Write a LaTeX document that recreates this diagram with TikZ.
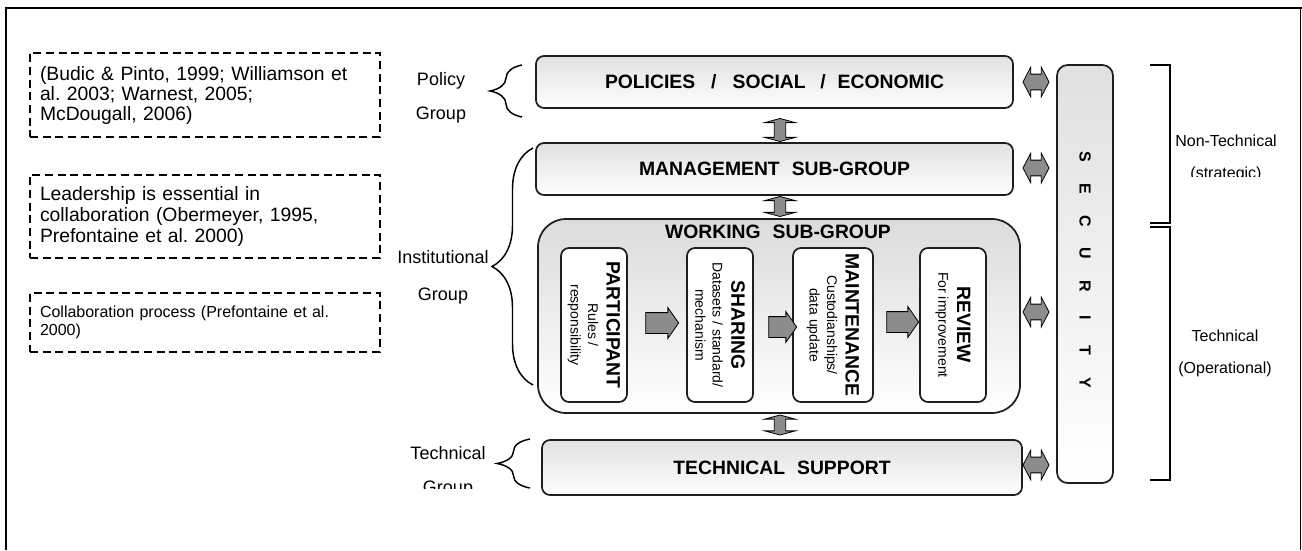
\documentclass[tikz,border=0pt]{standalone}
\usepackage{fontspec}
\setmainfont{Liberation Sans}
\usetikzlibrary{shapes.arrows,decorations.pathreplacing}
\definecolor{arrgray}{RGB}{140,140,140}
\definecolor{edge}{RGB}{30,30,30}
\newcommand{\stagetitle}[1]{{\fontsize{14.5}{15}\selectfont\bfseries #1}}
\newcommand{\stagenote}{\fontsize{10.5}{12}\selectfont}

\begin{document}
\frenchspacing
\begin{tikzpicture}[x=0.75pt,y=-0.75pt,
		refbox/.style={draw=black,line width=1.2pt,dash pattern=on 6pt off 3.5pt,
			minimum width=262.5pt,text width=247.5pt,align=left,inner xsep=7.5pt},
		grp/.style={draw=edge,line width=1.3pt,rounded corners=6pt,inner sep=0pt,
			top color=black!12,bottom color=white,
			font=\fontsize{14.5}{17}\selectfont\bfseries},
		stage/.style={draw=edge,line width=1.3pt,rounded corners=6pt,fill=white,
			rotate=-90,align=center,inner sep=0pt,minimum width=115.5pt},
		lbl/.style={font=\fontsize{13.5}{16}\selectfont,anchor=base},
		side/.style={font=\fontsize{12}{14}\selectfont,anchor=base},
		fwd/.style={single arrow,draw=black,line width=0.6pt,fill=arrgray,inner xsep=0pt,
			inner ysep=7.5pt,minimum width=22.5pt,single arrow head extend=3.75pt,
			single arrow tip angle=110},
		link/.style={double arrow,draw=black,line width=0.6pt,fill=arrgray,inner xsep=0pt},
		vlink/.style={link,rotate=90,inner ysep=4pt,minimum width=22.5pt,
			double arrow head extend=7.25pt,double arrow tip angle=150},
		hlink/.style={link,inner ysep=5.6pt,minimum height=19.5pt,minimum width=21.75pt,
			double arrow head extend=5.25pt,double arrow tip angle=125},
		brk/.style={line width=1.2pt},
		brc/.style={line width=1.1pt,decorate,decoration={brace,amplitude=#1}}]
	\useasboundingbox (0,0) rectangle (1302,550);
	
	% frame
	\draw[line width=2.2pt] (6,550) -- (6,8) -- (1302,8);
	\draw[line width=0.8pt] (1300.5,8) -- (1300.5,550);
	
	% ============ references ============
	\node[refbox,minimum height=63pt,font=\fontsize{14.5}{15}\selectfont] (ref1) at (205,95)
		{(Budic \& Pinto, 1999; Williamson et\\ al. 2003; Warnest, 2005;\\ McDougall, 2006)};
	\node[refbox,minimum height=62.25pt,font=\fontsize{14.5}{16}\selectfont] (ref2) at (205,216.5)
		{Leadership is essential in\\ collaboration (Obermeyer, 1995,\\ Prefontaine et al. 2000)};
	\node[refbox,minimum height=44.25pt,font=\fontsize{12}{13.5}\selectfont] (ref3) at (205,322.5)
		{Collaboration process (Prefontaine et al.\\ 2000)};
	
	% ============ group labels + braces ============
	\node[lbl] (polL1) at (441,85) {Policy};
	\node[lbl] (polL2) at (441,119.5) {Group};
	\draw[brc=24pt] (522,117) -- (522,65);
	\node[lbl] (insL1) at (443,263) {Institutional};
	\node[lbl] (insL2) at (443,300) {Group};
	\draw[brc=30.75pt] (533,385) -- (533,148);
	\node[lbl] (tecL1) at (448,459) {Technical};
	\begin{scope}
		\clip (400,470) rectangle (500,488);
		\node[lbl] (tecL2) at (448,493) {Group};
	\end{scope}
	\draw[brc=24.75pt] (530,488) -- (530,439);
	
	% ============ main boxes ============
	\node[grp,minimum width=357.75pt,minimum height=39pt] (pol) at (774.5,82)
		{POLICIES\hspace{12pt}/\hspace{12pt}SOCIAL\hspace{11pt}/\hspace{9pt}ECONOMIC};
	\node[grp,minimum width=357.75pt,minimum height=39pt] (mgt) at (774.5,169)
		{MANAGEMENT\hspace{9pt}SUB-GROUP};
	\node[grp,rounded corners=21pt,minimum width=361.5pt,minimum height=145.5pt,
		top color=black!14] (work) at (779,316) {};
	\node[anchor=base,font=\fontsize{14.5}{17}\selectfont\bfseries] (worktitle) at (778,238)
		{WORKING\hspace{9pt}SUB-GROUP};
	\node[grp,minimum width=360pt,minimum height=41.25pt] (tech) at (782,467.5)
		{TECHNICAL\hspace{9pt}SUPPORT};
	
	% working steps
	\node[stage,minimum height=49.5pt] (part) at (594,325)
		{\stagetitle{PARTICIPANT}\\[2pt] \stagenote Rules /\\[1pt] \stagenote responsibility};
	\node[stage,minimum height=49.5pt] (shar) at (720,325)
		{\stagetitle{SHARING}\\[2pt] \stagenote Datasets / standard/\\[1pt] \stagenote mechanism};
	\node[stage,minimum height=60pt] (maint) at (833,325)
		{\stagetitle{MAINTENANCE}\\[2pt] \stagenote Custodianships/\\[1pt] \stagenote data update};
	\node[stage,minimum height=49.5pt] (rev) at (953,325)
		{\stagetitle{REVIEW}\\[2pt] \stagenote For improvement};
	\node[fwd,minimum height=24.75pt] (f1) at (658.5,323) {};
	\node[fwd,minimum height=21pt] (f2) at (779,327) {};
	\node[fwd,minimum height=24pt] (f3) at (899,322) {};
	
	% vertical links
	\node[vlink,minimum height=17.25pt] (v1) at (780,130) {};
	\node[vlink,minimum height=15pt] (v2) at (780,206.5) {};
	\node[vlink,minimum height=15pt] (v3) at (780,425) {};
	
	% ============ security ============
	\node[grp,rounded corners=8pt,minimum width=42pt,minimum height=313.5pt] (sec) at (1085,274) {};
	\foreach \ch [count=\i from 0] in {S,E,C,U,R,I,T,Y}
		\node[rotate=-90,font=\fontsize{12}{14}\selectfont\bfseries] (sec\i) at (1085,{157+32.2*\i}) {\ch};
	\node[hlink] (h1) at (1036,82) {};
	\node[hlink] (h2) at (1036,168) {};
	\node[hlink] (h3) at (1036,312) {};
	\node[hlink] (h4) at (1036,465) {};
	
	% ============ right brackets ============
	\draw[brk] (1150,65) -- (1170,65) -- (1170,223) -- (1150,223);
	\draw[brk] (1150,227) -- (1170,227) -- (1170,480) -- (1150,480);
	\node[side] (ntL1) at (1226,146) {Non-Technical};
	\begin{scope}
		\clip (1180,150) rectangle (1290,176.5);
		\node[side] (ntL2) at (1226,178) {(strategic)};
	\end{scope}
	\node[side] (tL1) at (1225,341) {Technical};
	\node[side] (tL2) at (1225,373) {(Operational)};
	
\end{tikzpicture}
\end{document}
